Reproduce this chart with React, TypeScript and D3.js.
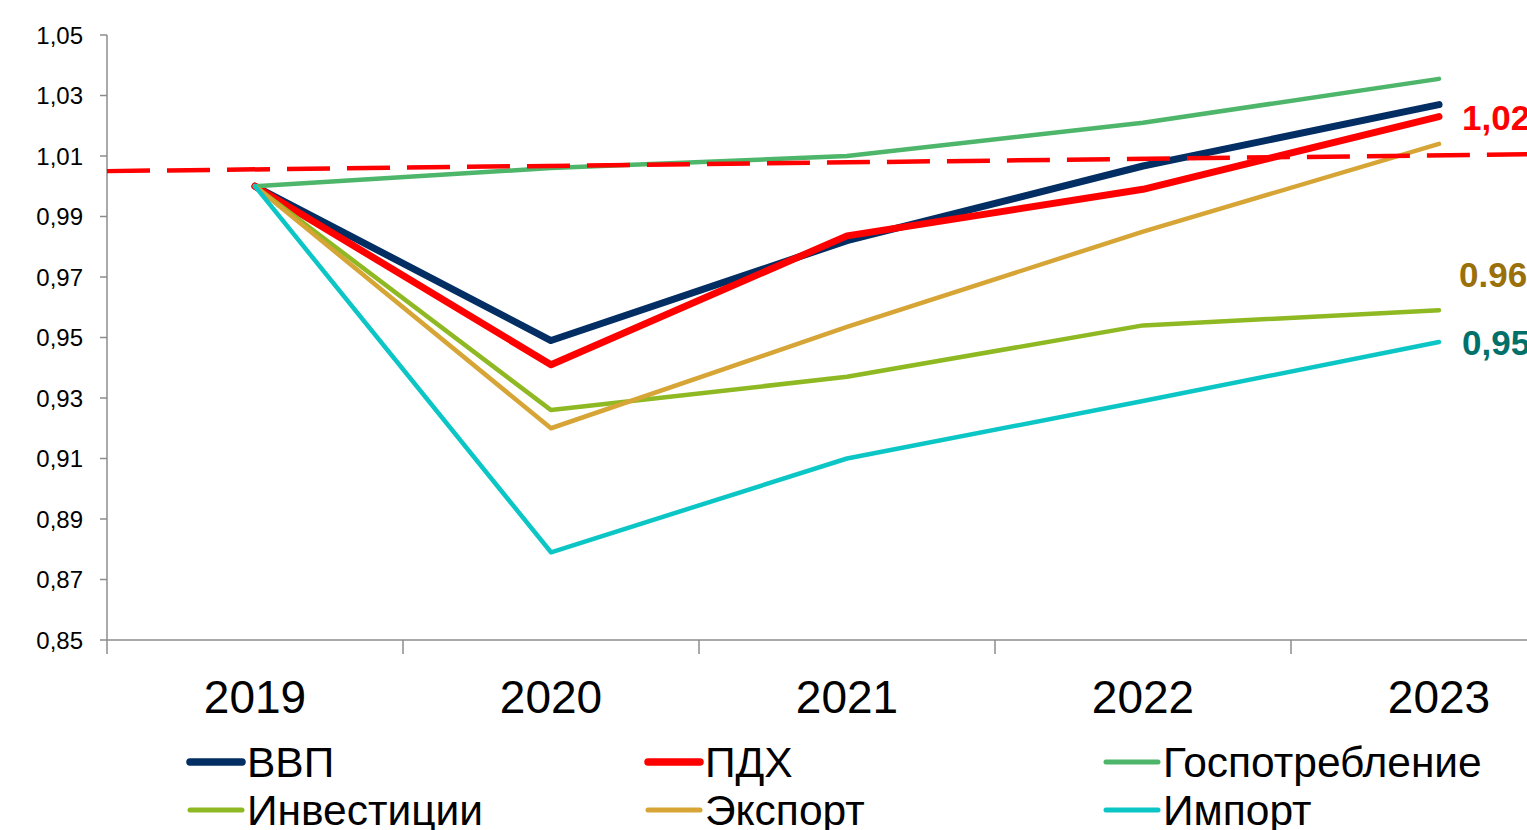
import * as d3 from "d3";

const years = ["2019", "2020", "2021", "2022", "2023"];
const gdp = [1.0, 0.949, 0.982, 1.0067, 1.027];
const pdh = [1.0, 0.941, 0.9836, 0.999, 1.023];
const govCons = [1.0, 1.006, 1.01, 1.021, 1.0355];
const invest = [1.0, 0.926, 0.937, 0.954, 0.959];
const exportS = [1.0, 0.92, 0.9535, 0.985, 1.014];
const importS = [1.0, 0.879, 0.91, 0.929, 0.9485];
// dashed reference line, values at the left and right edge of the plot
const trend = [1.005, 1.0108];
const yTicks = [0.85, 0.87, 0.89, 0.91, 0.93, 0.95, 0.97, 0.99, 1.01, 1.03, 1.05];

const W = 1527;
const H = 830;
const LEFT = 107;
const BAND = 296;
const TOP = 35;
const BOTTOM = 640;
const FONT = "Arial, 'Liberation Sans', sans-serif";
const AXIS = "#8c8c8c";

const series = [
  { name: "ВВП", values: gdp, color: "#032e63", width: 7 },
  { name: "ПДХ", values: pdh, color: "#ff0000", width: 7 },
  { name: "Госпотребление", values: govCons, color: "#4db66a", width: 4.5 },
  { name: "Инвестиции", values: invest, color: "#8fb922", width: 4.5 },
  { name: "Экспорт", values: exportS, color: "#d6a535", width: 4.5 },
  { name: "Импорт", values: importS, color: "#0cc6c6", width: 4.5 },
];

const endLabels = [
  { text: "1,02", value: pdh[4], color: "#ff0000", dx: 23, dy: 13 },
  { text: "0.96", value: invest[4], color: "#9a700a", dx: 20, dy: -23 },
  { text: "0,95", value: importS[4], color: "#00706a", dx: 23, dy: 13 },
];

export default function App() {
  const x = d3
    .scaleBand<string>()
    .domain(years)
    .range([LEFT, LEFT + BAND * years.length]);
  const xc = (i: number) => x(years[i])! + x.bandwidth() / 2;
  const y = d3.scaleLinear().domain([0.85, 1.05]).range([BOTTOM, TOP]);

  const line = d3
    .line<number>()
    .x((_, i) => xc(i))
    .y((d) => y(d));

  const xEdge = d3.scaleLinear().domain([0, 1]).range(x.range());
  const trendPath = d3
    .line<number>()
    .x((_, i) => xEdge(i))
    .y((d) => y(d))(trend)!;

  const legendCols = [187, 645, 1103];
  const legendRows = [762, 810];

  return (
    <div style={{ position: "absolute", left: 0, top: 0, width: W, height: H, overflow: "hidden", background: "#fff" }}>
      <svg width={W} height={H} style={{ display: "block" }} fontFamily={FONT}>
        {/* y axis */}
        <line x1={LEFT} x2={LEFT} y1={TOP} y2={BOTTOM} stroke={AXIS} strokeWidth={1.5} />
        {yTicks.map((t) => (
          <g key={t}>
            <line x1={LEFT - 7} x2={LEFT} y1={y(t)} y2={y(t)} stroke={AXIS} strokeWidth={1.5} />
            <text x={LEFT - 24} y={y(t)} dy="0.36em" textAnchor="end" fontSize={24} fill="#000">
              {t.toFixed(2).replace(".", ",")}
            </text>
          </g>
        ))}
        {/* x axis */}
        <line x1={LEFT} x2={W} y1={BOTTOM} y2={BOTTOM} stroke={AXIS} strokeWidth={1.5} />
        {years.map((yr) => (
          <line key={yr} x1={x(yr)!} x2={x(yr)!} y1={BOTTOM} y2={BOTTOM + 14} stroke={AXIS} strokeWidth={1.5} />
        ))}
        {years.map((yr, i) => (
          <text key={yr} x={xc(i)} y={713} textAnchor="middle" fontSize={46} fill="#000">
            {yr}
          </text>
        ))}

        {/* series */}
        {series.map((s) => (
          <path
            key={s.name}
            d={line(s.values)!}
            fill="none"
            stroke={s.color}
            strokeWidth={s.width}
            strokeLinejoin="round"
            strokeLinecap="round"
          />
        ))}
        <path d={trendPath} fill="none" stroke="#ff0000" strokeWidth={4.5} strokeDasharray="43 17" />

        {endLabels.map((l) => (
          <text
            key={l.text}
            x={xc(4) + l.dx}
            y={y(l.value) + l.dy}
            fontSize={35}
            fontWeight="bold"
            fill={l.color}
          >
            {l.text}
          </text>
        ))}

        {/* legend */}
        {series.map((s, i) => {
          const cx = legendCols[i % 3];
          const cy = legendRows[Math.floor(i / 3)];
          return (
            <g key={s.name}>
              <line
                x1={cx + 3}
                x2={cx + 55}
                y1={cy}
                y2={cy}
                stroke={s.color}
                strokeWidth={s.width + 0.5}
                strokeLinecap="round"
              />
              <text x={cx + 60} y={cy + 15} fontSize={42.5} fill="#000">
                {s.name}
              </text>
            </g>
          );
        })}
      </svg>
    </div>
  );
}
